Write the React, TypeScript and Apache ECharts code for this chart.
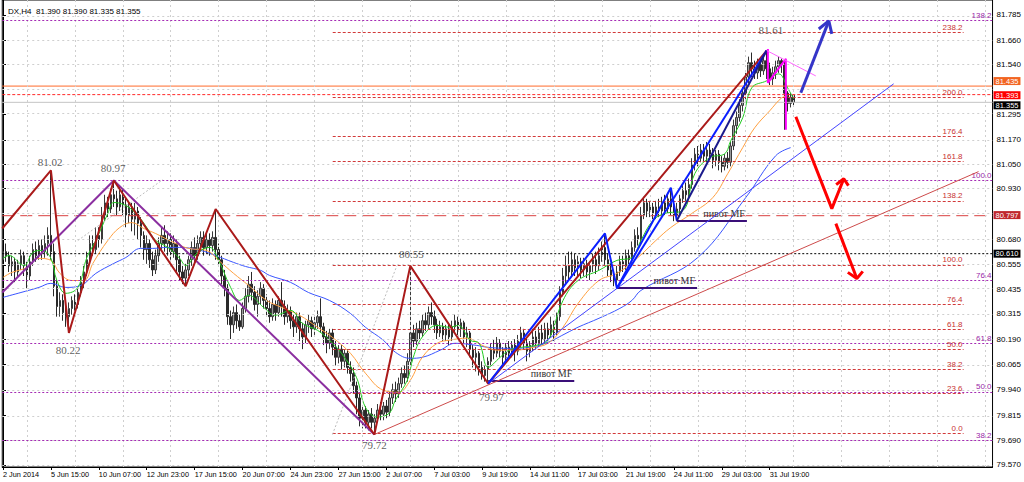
import React, { useEffect, useRef } from 'react';
import * as echarts from 'echarts';

// ---- OHLC (open, close, low, high) for each H4 bar ----
const candles: number[][] = [
[80.58,80.62,80.55,80.65],[80.62,80.60,80.57,80.66],[80.60,80.55,80.52,80.62],[80.55,80.57,80.50,80.60],
[80.57,80.52,80.47,80.59],[80.52,80.56,80.49,80.58],[80.56,80.60,80.53,80.63],[80.60,80.55,80.50,80.62],
[80.55,80.50,80.44,80.57],[80.50,80.57,80.48,80.60],[80.57,80.63,80.55,80.66],[80.63,80.60,80.57,80.67],
[80.60,80.65,80.58,80.68],[80.65,80.62,80.58,80.68],[80.62,80.66,80.59,80.70],[80.66,80.70,80.60,80.74],
[80.70,80.62,80.58,81.02],[80.62,80.45,80.40,80.66],[80.45,80.35,80.30,80.48],[80.35,80.38,80.30,80.42],
[80.38,80.32,80.28,80.41],[80.32,80.30,80.25,80.36],[80.30,80.34,80.22,80.37],[80.34,80.38,80.31,80.40],
[80.38,80.36,80.33,80.41],[80.36,80.42,80.34,80.44],[80.42,80.47,80.40,80.50],[80.47,80.52,80.44,80.55],
[80.52,80.58,80.50,80.62],[80.58,80.66,80.56,80.70],[80.66,80.63,80.60,80.70],[80.63,80.70,80.61,80.74],
[80.70,80.68,80.64,80.74],[80.68,80.80,80.66,80.84],[80.80,80.86,80.77,80.90],[80.86,80.83,80.79,80.89],
[80.83,80.90,80.81,80.93],[80.90,80.88,80.84,80.97],[80.88,80.84,80.80,80.92],[80.84,80.90,80.82,80.94],
[80.90,80.85,80.80,80.93],[80.85,80.80,80.74,80.88],[80.80,80.84,80.76,80.87],[80.84,80.78,80.72,80.86],
[80.78,80.82,80.70,80.86],[80.82,80.76,80.68,80.84],[80.76,80.70,80.64,80.79],[80.70,80.63,80.58,80.72],
[80.63,80.66,80.56,80.70],[80.66,80.58,80.54,80.68],[80.58,80.53,80.50,80.62],[80.53,80.60,80.51,80.63],
[80.60,80.66,80.57,80.69],[80.66,80.70,80.63,80.74],[80.70,80.66,80.62,80.75],[80.66,80.68,80.60,80.72],
[80.68,80.62,80.58,80.71],[80.62,80.66,80.59,80.70],[80.66,80.58,80.52,80.68],[80.58,80.52,80.48,80.60],
[80.52,80.49,80.46,80.55],[80.49,80.53,80.45,80.56],[80.53,80.58,80.50,80.60],[80.58,80.64,80.55,80.67],
[80.64,80.60,80.57,80.69],[80.60,80.66,80.58,80.70],[80.66,80.69,80.62,80.72],[80.69,80.64,80.60,80.72],
[80.64,80.68,80.61,80.71],[80.68,80.65,80.60,80.71],[80.65,80.69,80.62,80.72],[80.69,80.63,80.58,80.83],
[80.63,80.58,80.55,80.66],[80.58,80.50,80.46,80.60],[80.50,80.44,80.40,80.53],[80.44,80.30,80.26,80.46],
[80.30,80.26,80.19,80.33],[80.26,80.32,80.22,80.35],[80.32,80.28,80.24,80.36],[80.28,80.25,80.23,80.31],
[80.25,80.34,80.24,80.37],[80.34,80.40,80.32,80.44],[80.40,80.46,80.37,80.50],[80.46,80.42,80.38,80.52],
[80.42,80.36,80.33,80.45],[80.36,80.40,80.30,80.43],[80.40,80.44,80.36,80.47],[80.44,80.38,80.34,80.46],
[80.38,80.34,80.30,80.41],[80.34,80.30,80.27,80.38],[80.30,80.36,80.28,80.39],[80.36,80.32,80.28,80.38],
[80.32,80.38,80.30,80.40],[80.38,80.35,80.30,80.47],[80.35,80.30,80.26,80.38],[80.30,80.33,80.27,80.36],
[80.33,80.28,80.24,80.35],[80.28,80.25,80.20,80.31],[80.25,80.30,80.22,80.32],[80.30,80.24,80.18,80.32],
[80.24,80.20,80.14,80.27],[80.20,80.26,80.17,80.28],[80.26,80.28,80.22,80.31],[80.28,80.24,80.20,80.30],
[80.24,80.27,80.21,80.30],[80.27,80.30,80.24,80.33],[80.30,80.25,80.22,80.39],[80.25,80.20,80.16,80.27],
[80.20,80.17,80.12,80.23],[80.17,80.22,80.14,80.24],[80.22,80.15,80.11,80.24],[80.15,80.10,80.06,80.18],
[80.10,80.14,80.07,80.16],[80.14,80.08,80.04,80.16],[80.08,80.12,80.05,80.14],[80.12,80.05,80.02,80.14],
[80.05,80.02,79.98,80.08],[80.02,79.96,79.92,80.05],[79.96,79.90,79.82,79.98],[79.90,79.80,79.76,79.92],
[79.80,79.84,79.75,79.86],[79.84,79.78,79.75,79.86],[79.78,79.82,79.74,79.84],[79.82,79.78,79.75,79.85],
[79.78,79.80,79.72,79.82],[79.80,79.84,79.78,79.87],[79.84,79.82,79.79,79.88],[79.82,79.86,79.79,79.88],
[79.86,79.83,79.80,79.89],[79.83,79.90,79.81,79.93],[79.90,79.94,79.87,79.97],[79.94,79.92,79.88,79.98],
[79.92,79.97,79.90,80.00],[79.97,80.02,79.95,80.05],[80.02,80.00,79.97,80.06],[80.00,80.08,79.98,80.12],
[80.08,80.22,80.06,80.55],[80.22,80.18,80.15,80.26],[80.18,80.24,80.16,80.27],[80.24,80.22,80.19,80.28],
[80.22,80.28,80.20,80.31],[80.28,80.26,80.23,80.32],[80.26,80.32,80.24,80.35],[80.32,80.30,80.26,80.37],
[80.30,80.26,80.22,80.33],[80.26,80.22,80.19,80.29],[80.22,80.25,80.20,80.28],[80.25,80.21,80.18,80.27],
[80.21,80.24,80.18,80.26],[80.24,80.20,80.16,80.26],[80.20,80.25,80.18,80.28],[80.25,80.28,80.22,80.31],
[80.28,80.24,80.21,80.30],[80.24,80.27,80.20,80.29],[80.27,80.20,80.17,80.28],[80.20,80.22,80.15,80.25],
[80.22,80.14,80.10,80.23],[80.14,80.10,80.05,80.16],[80.10,80.12,80.03,80.15],[80.12,80.05,80.01,80.13],
[80.05,80.01,79.99,80.08],[80.01,80.04,79.98,80.06],[80.04,80.08,79.97,80.10],[80.08,80.14,80.06,80.17],
[80.14,80.12,80.09,80.19],[80.12,80.17,80.10,80.20],[80.17,80.13,80.10,80.19],[80.13,80.10,80.05,80.15],
[80.10,80.15,80.08,80.17],[80.15,80.12,80.09,80.18],[80.12,80.16,80.10,80.18],[80.16,80.13,80.08,80.19],
[80.13,80.18,80.11,80.21],[80.18,80.22,80.15,80.25],[80.22,80.17,80.14,80.24],[80.17,80.13,80.08,80.19],
[80.13,80.16,80.10,80.18],[80.16,80.20,80.13,80.24],[80.20,80.17,80.14,80.23],[80.17,80.22,80.15,80.25],
[80.22,80.19,80.16,80.26],[80.19,80.24,80.17,80.27],[80.24,80.21,80.18,80.27],[80.21,80.26,80.20,80.30],
[80.26,80.22,80.18,80.28],[80.22,80.30,80.21,80.32],[80.30,80.42,80.28,80.45],[80.42,80.50,80.40,80.54],
[80.50,80.55,80.46,80.60],[80.55,80.52,80.48,80.62],[80.52,80.58,80.50,80.62],[80.58,80.54,80.50,80.61],
[80.54,80.57,80.50,80.60],[80.57,80.53,80.49,80.59],[80.53,80.56,80.50,80.59],[80.56,80.52,80.49,80.58],
[80.52,80.55,80.48,80.57],[80.55,80.58,80.52,80.61],[80.58,80.55,80.51,80.62],[80.55,80.60,80.53,80.64],
[80.60,80.64,80.57,80.67],[80.64,80.58,80.55,80.71],[80.58,80.53,80.50,80.61],[80.53,80.50,80.47,80.56],
[80.50,80.48,80.45,80.53],[80.48,80.52,80.44,80.55],[80.52,80.57,80.50,80.60],[80.57,80.55,80.52,80.60],
[80.55,80.60,80.53,80.63],[80.60,80.58,80.55,80.63],[80.58,80.64,80.56,80.67],[80.64,80.70,80.62,80.73],
[80.70,80.68,80.65,80.74],[80.68,80.80,80.66,80.84],[80.80,80.86,80.78,80.89],[80.86,80.82,80.79,80.88],
[80.82,80.84,80.79,80.87],[80.84,80.81,80.78,80.86],[80.81,80.84,80.78,80.87],[80.84,80.82,80.79,80.88],
[80.82,80.86,80.80,80.89],[80.86,80.83,80.80,80.90],[80.83,80.88,80.81,80.91],[80.88,80.84,80.80,80.93],
[80.84,80.80,80.77,80.87],[80.80,80.83,80.77,80.86],[80.83,80.88,80.80,80.90],[80.88,80.92,80.86,80.95],
[80.92,80.90,80.87,80.96],[80.90,80.95,80.88,80.98],[80.95,81.05,80.93,81.08],[81.05,81.10,81.02,81.13],
[81.10,81.08,81.04,81.14],[81.08,81.12,81.06,81.15],[81.12,81.09,81.06,81.15],[81.09,81.12,81.06,81.16],
[81.12,81.10,81.07,81.15],[81.10,81.07,81.03,81.13],[81.07,81.10,81.04,81.12],[81.10,81.06,81.02,81.12],
[81.06,81.04,81.01,81.09],[81.04,81.08,81.02,81.10],[81.08,81.06,81.03,81.11],[81.06,81.14,81.04,81.16],
[81.14,81.24,81.12,81.27],[81.24,81.28,81.20,81.31],[81.28,81.34,81.26,81.37],[81.34,81.40,81.31,81.43],
[81.40,81.48,81.37,81.50],[81.48,81.55,81.45,81.58],[81.55,81.52,81.48,81.60],[81.52,81.50,81.47,81.56],
[81.50,81.54,81.47,81.57],[81.54,81.51,81.48,81.57],[81.51,81.56,81.49,81.59],[81.56,81.52,81.47,81.61],
[81.52,81.47,81.44,81.55],[81.47,81.50,81.44,81.53],[81.50,81.53,81.47,81.56],[81.53,81.56,81.50,81.58],
[81.56,81.54,81.50,81.57],[81.54,81.40,81.22,81.56],[81.40,81.35,81.31,81.41],[81.35,81.38,81.33,81.40],
[81.39,81.355,81.335,81.39]
];

// ---- moving averages [bar, price] ----
const greenMA = [[0,80.587],[2,80.601],[7,80.552],[10,80.616],[13,80.626],[16,80.587],[18,80.478],[21,80.415],[25,80.444],[28,80.591],[31,80.675],[35,80.808],[37,80.862],[41,80.847],[45,80.798],[48,80.739],[51,80.675],[55,80.641],[59,80.587],[61,80.552],[65,80.616],[69,80.641],[72,80.577],[76,80.444],[79,80.380],[82,80.405],[87,80.346],[91,80.307],[96,80.331],[100,80.267],[105,80.233],[109,80.184],[113,80.120],[118,80.002],[121,79.855],[125,79.806],[129,79.825],[131,79.889],[135,79.987],[137,80.10],[140,80.20],[145,80.257],[149,80.248],[152,80.257],[156,80.184],[159,80.169],[162,80.051],[166,80.100],[169,80.135],[173,80.149],[178,80.159],[182,80.184],[187,80.380],[192,80.478],[199,80.528],[205,80.577],[210,80.591],[213,80.675],[217,80.773],[221,80.808],[227,80.822],[231,81.004],[236,81.083],[241,81.102],[243,81.166],[247,81.279],[250,81.426],[255,81.461],[259,81.495],[262,81.426],[264,81.372]];
const orangeMA = [[0,80.493],[3,80.518],[8,80.542],[12,80.587],[16,80.577],[19,80.513],[23,80.478],[27,80.478],[30,80.562],[35,80.675],[39,80.739],[43,80.763],[47,80.734],[51,80.709],[57,80.665],[62,80.636],[68,80.626],[72,80.577],[77,80.513],[82,80.454],[88,80.380],[93,80.346],[99,80.307],[105,80.248],[110,80.198],[116,80.120],[121,80.022],[127,79.938],[132,79.928],[136,79.987],[140,80.100],[145,80.169],[149,80.184],[155,80.194],[160,80.159],[165,80.135],[171,80.135],[177,80.149],[182,80.169],[187,80.248],[192,80.365],[199,80.478],[205,80.513],[212,80.591],[218,80.675],[223,80.739],[230,80.808],[237,80.886],[242,81.004],[247,81.132],[251,81.230],[256,81.313],[260,81.377],[262,81.387]];
const blueMA = [[0,80.395],[6,80.419],[12,80.444],[16,80.464],[21,80.444],[26,80.454],[31,80.513],[37,80.562],[41,80.591],[46,80.636],[50,80.636],[55,80.641],[59,80.641],[66,80.626],[71,80.601],[77,80.567],[81,80.547],[86,80.528],[89,80.503],[96,80.469],[102,80.419],[109,80.380],[116,80.316],[121,80.248],[127,80.184],[131,80.125],[136,80.095],[140,80.100],[146,80.135],[151,80.169],[158,80.159],[162,80.149],[169,80.144],[176,80.149],[182,80.174],[188,80.218],[192,80.248],[199,80.292],[206,80.341],[210,80.380],[213,80.429],[232,80.591],[248,80.886],[258,81.092],[263,81.132]];

// ---- drawn objects [bar, price] ----
const redZigzag = [[-0.25,80.734],[16,81.02],[22,80.22],[37,80.97],[61,80.45],[71,80.83],[124,79.72],[136,80.55],[162,79.97],[255,81.61]];
const purpleZigzag = [[-0.25,80.419],[37,80.97],[124,79.72]];
const blueZigzag = [[162,79.97],[201,80.71],[205,80.44],[223,80.935],[225,80.773]];
const blueChannel = [[205,80.44],[255,81.61]];
const navyChannel = [[225,80.773],[255,81.61]];
const magentaPath = [[255.4,81.618],[255.4,81.451],[261.4,81.569],[261.4,81.22]];
const pinkTrend = [[255,81.61],[271.4,81.485]];
const thinRedTrend = [[124,79.72],[325.75,81.014]];
const thinBlueTrend = [[162,79.97],[297.4,81.446]];
const fibBaseRed = [[110,79.72],[131.5,80.55]];
const fibBasePurple = [[25,80.675],[53.4,80.975]];
const blueArrow = [[266.4,81.402],[275.75,81.756]];
const blueArrowHead = [[272.4,81.716],[275.75,81.756],[276.75,81.692]];
const redArrow1 = [[264.75,81.284],[276.75,80.832],[280.75,80.979]];
const redArrow1Head = [[278.2,80.950],[280.75,80.979],[282.3,80.945]];
const redArrow2 = [[278.1,80.758],[285.1,80.488]];
const redArrow2Head = [[282.1,80.518],[285.1,80.488],[287.1,80.523]];

// ---- fibonacci levels ----
const redFibLevels = ['0.0','23.6','38.2','50.0','61.8','76.4','100.0','138.2','161.8','176.4','200.0','238.2'];
const redFibPrices = [79.725,79.921,80.042,80.140,80.238,80.359,80.555,80.870,81.066,81.187,81.378,81.700];
const redFibSpan = [110.1, 320.75];
const purpleFibLevels = ['38.2','50.0','61.8','76.4','100.0','138.2'];
const purpleFibPrices = [79.690,79.933,80.172,80.480,80.968,81.760];

// ---- horizontal price lines with axis boxes ----
const markedPrices = [81.435, 81.393, 81.355, 80.797, 80.610];
const chartSpan = [-0.25, 330.4167];

// ---- pivot lines ----
const pivotText = 'пивот MF';
const pivotStarts = [[162,79.985],[205,80.444],[225,80.773]];
const pivotEnds = [[190.75,79.985],[231.75,80.444],[248.4,80.773]];

// ---- price notes ----
const priceNotes = ['81.61','81.02','80.97','80.22','80.55','79.97','79.72'];
const priceNotePos = [[256.4,81.711],[15.75,81.063],[36.75,81.033],[21.75,80.135],[136.4,80.606],[163.1,79.904],[124,79.668]];

// ---- axes ----
const priceGridTicks = [79.570,79.690,79.815,79.940,80.065,80.190,80.315,80.435,80.555,80.680,80.805,80.930,81.050,81.170,81.295,81.415,81.540,81.660,81.785];
const priceAxisLabels = [79.570,79.690,79.815,79.940,80.065,80.190,80.315,80.435,80.555,80.680,80.930,81.050,81.170,81.295,81.540,81.660,81.785];
const timeTickBars = [0,16,32,48,64,80,96,112,128,144,160,176,192,208,224,240,256];
const timeTickLabels = ['2 Jun 2014','5 Jun 15:00','10 Jun 07:00','12 Jun 23:00','17 Jun 15:00','20 Jun 07:00','24 Jun 23:00','27 Jun 15:00','2 Jul 07:00','7 Jul 03:00','9 Jul 19:00','14 Jul 11:00','17 Jul 03:00','21 Jul 19:00','24 Jul 11:00','29 Jul 03:00','31 Jul 19:00'];
const timeGridBars = [8,24,40,56,72,88,104,120,136,152,168,184,200,216,232,248,264,280,296,312,328];
const header = 'DX,H4  81.390 81.390 81.335 81.355';

const FONT = 'Liberation Sans';
const SERIF = 'Liberation Serif';

function lineSeries(data: number[][], color: string, width: number, z: number, extra: any = {}) {
  return {
    type: 'line', data, symbol: 'none', z, silent: true,
    lineStyle: { color, width, ...(extra.lineStyle || {}) },
    smooth: extra.smooth || false,
  };
}

export default function App() {
  const ref = useRef<HTMLDivElement>(null);
  useEffect(() => {
    if (!ref.current) return;
    const chart = echarts.init(ref.current, undefined, { renderer: 'svg' });

    const boxColors = ['#F26522', '#FF0000', '#000000', '#C0282D', '#000000'];
    const lineColors = ['#FF6A2A', '#FF2A2A', '#C4C4C4', '#D94040', '#000000'];
    const lineTypes: any[] = ['solid', [3, 2], 'solid', [12, 6], [2, 2]];
    const boxAlign = ['bottom', 'middle', 'top', 'middle', 'middle'];

    const option: any = {
      animation: false,
      backgroundColor: '#ffffff',
      textStyle: { fontFamily: FONT },
      title: {
        text: header, left: 3, top: 2,
        textStyle: { fontSize: 8, fontWeight: 'normal', fontFamily: FONT, color: '#000' },
      },
      grid: { left: 2, right: 30, top: -1, bottom: 15, show: true, borderColor: '#000', borderWidth: 1, backgroundColor: '#fff' },
      xAxis: {
        type: 'value', min: chartSpan[0], max: chartSpan[1],
        axisLine: { show: true, lineStyle: { color: '#000' } },
        axisTick: { show: true, customValues: timeTickBars, length: 3, lineStyle: { color: '#000' } },
        axisLabel: {
          customValues: timeTickBars, fontSize: 7.3, color: '#000', align: 'left', margin: 4, fontFamily: FONT,
          formatter: (v: number) => timeTickLabels[timeTickBars.indexOf(v)] ?? '',
        },
        splitLine: { show: false },
      },
      yAxis: {
        type: 'value', position: 'right', min: 79.560, max: 81.8587, scale: true,
        axisLine: { show: true, lineStyle: { color: '#000' } },
        axisTick: { show: true, customValues: priceAxisLabels, length: 3, lineStyle: { color: '#000' } },
        axisLabel: {
          customValues: priceAxisLabels, fontSize: 8, color: '#000', margin: 4, fontFamily: FONT,
          formatter: (v: number) => v.toFixed(3),
        },
        splitLine: { show: false },
      },
      series: [
        // grid lines
        {
          type: 'line', data: [], z: 1, silent: true,
          markLine: {
            silent: true, symbol: 'none', animation: false,
            lineStyle: { color: '#CFCFCF', type: [2, 3], width: 1 },
            label: { show: false },
            data: [
              ...priceGridTicks.map((v) => ({ yAxis: v })),
              ...timeGridBars.map((v) => ({ xAxis: v })),
            ],
          },
        },
        // marked price lines (drawn as full-width line series)
        ...markedPrices.map((p, k) =>
          lineSeries([[chartSpan[0], p], [chartSpan[1], p]], lineColors[k], 1, 3, { lineStyle: { type: lineTypes[k] } })
        ),
        // fib levels + axis boxes + pivots
        {
          type: 'line', data: [], z: 3, silent: true,
          markLine: {
            silent: true, symbol: 'none', animation: false,
            data: [
              ...redFibPrices.map((p, k) => [
                {
                  coord: [redFibSpan[0], p],
                  lineStyle: { color: '#D23A3A', type: [3, 2], width: 1 },
                  label: { show: true, position: 'insideEndTop', formatter: redFibLevels[k], color: '#C83232', fontSize: 8, distance: 1, fontFamily: FONT },
                },
                { coord: [redFibSpan[1], p] },
              ]),
              ...purpleFibPrices.map((p, k) => ({
                yAxis: p,
                lineStyle: { color: '#A52AB4', type: [2, 2], width: 1 },
                label: { show: true, position: 'insideEndTop', formatter: purpleFibLevels[k], color: '#9A1FA8', fontSize: 8, distance: 1, fontFamily: FONT },
              })),
              ...markedPrices.map((p, k) => ({
                yAxis: p,
                lineStyle: { color: 'rgba(255,255,255,0)', width: 1 },
                label: {
                  show: true, position: 'end', formatter: p.toFixed(3), color: '#ffffff', fontSize: 7.5, lineHeight: 8,
                  verticalAlign: boxAlign[k], opacity: 1,
                  backgroundColor: boxColors[k], padding: [0, 2, 0, 2], distance: 1, fontFamily: FONT,
                },
              })),
              ...pivotStarts.map((s, k) => [
                {
                  coord: s,
                  lineStyle: { color: '#3A0F78', type: 'solid', width: 2 },
                  label: { show: true, position: 'insideEndTop', formatter: pivotText, color: '#333', fontSize: 10, distance: 2, fontFamily: SERIF },
                },
                { coord: pivotEnds[k] },
              ]),
            ],
          },
        },
        // candles
        {
          type: 'candlestick', z: 2, silent: true,
          dimensions: ['t', 'open', 'close', 'lowest', 'highest'],
          encode: { x: 't', y: ['open', 'close', 'lowest', 'highest'] },
          data: candles.map((c, i) => [i, c[0], c[1], c[2], c[3]]),
          barWidth: 2,
          itemStyle: { color: '#9A9A9A', color0: '#2A2A2A', borderColor: '#3A3A3A', borderColor0: '#2A2A2A', borderWidth: 1 },
        },
        // moving averages
        lineSeries(blueMA, '#3A55FF', 1, 4, { smooth: 0.4 }),
        lineSeries(orangeMA, '#FFA040', 1, 4, { smooth: 0.4 }),
        lineSeries(greenMA, '#22CC22', 1, 4, { smooth: 0.4 }),
        // trend objects
        lineSeries(fibBaseRed, '#BDBDBD', 1, 5, { lineStyle: { type: [2, 2] } }),
        lineSeries(fibBasePurple, '#BDBDBD', 1, 5, { lineStyle: { type: [2, 2] } }),
        lineSeries(thinRedTrend, '#CD4B4B', 1, 5),
        lineSeries(thinBlueTrend, '#4444FF', 1, 5),
        lineSeries(purpleZigzag, '#8B2FA0', 2, 6),
        lineSeries(redZigzag, '#AA1A1A', 2, 6),
        lineSeries(blueZigzag, '#0A1EFF', 2, 6),
        lineSeries(blueChannel, '#0A1EFF', 2, 6),
        lineSeries(navyChannel, '#1A1A8C', 2, 6),
        lineSeries(magentaPath, '#FF00FF', 2, 6),
        lineSeries(pinkTrend, '#FF66FF', 1, 6),
        lineSeries(blueArrow, '#3535C8', 3, 7),
        lineSeries(blueArrowHead, '#3535C8', 3, 7),
        lineSeries(redArrow1, '#FF0000', 3, 7),
        lineSeries(redArrow1Head, '#FF0000', 3, 7),
        lineSeries(redArrow2, '#FF0000', 3, 7),
        lineSeries(redArrow2Head, '#FF0000', 3, 7),
        // price notes
        {
          type: 'scatter', z: 8, silent: true, symbolSize: 1,
          itemStyle: { color: 'rgba(0,0,0,0)' },
          data: priceNotes.map((n, k) => ({ name: n, value: priceNotePos[k] })),
          label: { show: true, position: 'inside', formatter: '{b}', color: '#333', fontSize: 11, fontFamily: SERIF },
        },
      ],
    };
    chart.setOption(option);
    return () => chart.dispose();
  }, []);
  return <div ref={ref} style={{ position: 'fixed', left: 0, top: 0, width: 1024, height: 482, background: '#fff' }} />;
}
